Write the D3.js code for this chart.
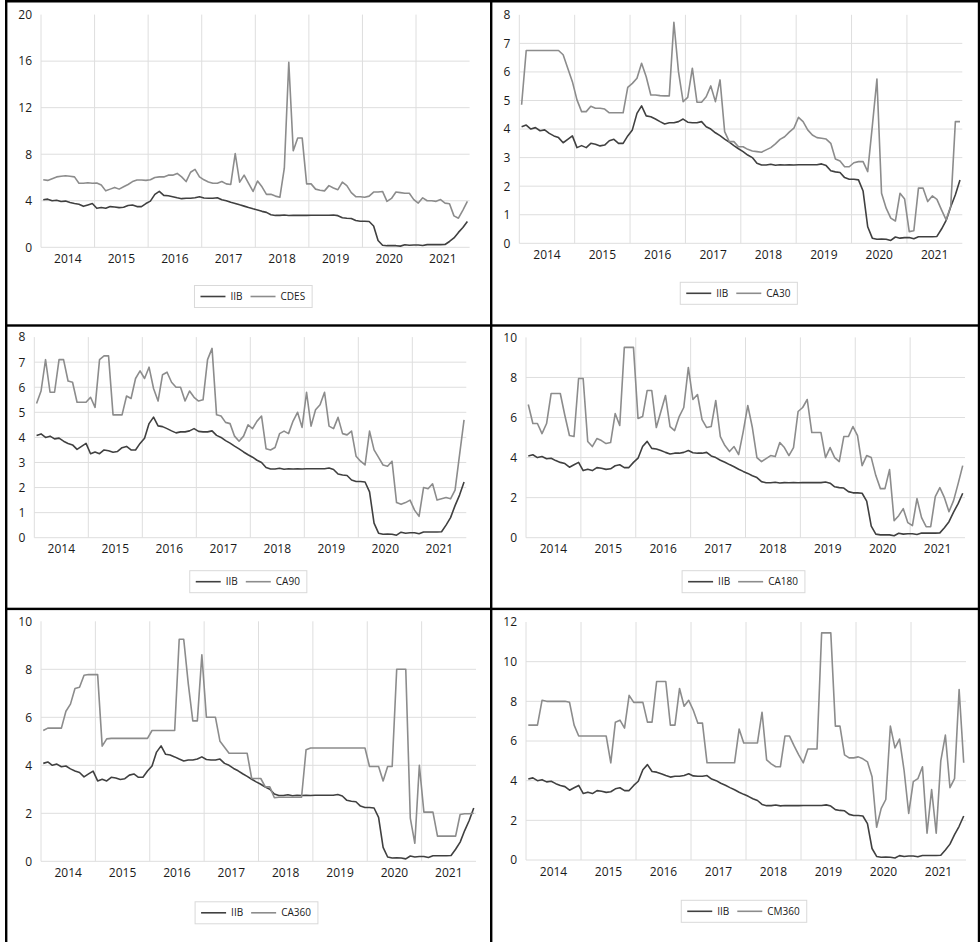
<!DOCTYPE html>
<html>
<head>
<meta charset="utf-8">
<script src="https://cdn.jsdelivr.net/npm/d3@7"></script>
<style>
  body { margin: 0; background: #fff; }
  svg { display: block; font-family: "Open Sans", sans-serif; }
</style>
</head>
<body>
<div id="chart-area"></div>
<script>
// monthly data, Jan 2014 - Dec 2021
const years = [2014, 2015, 2016, 2017, 2018, 2019, 2020, 2021];

const iib = [
  4.08, 4.14, 4.0, 4.05, 3.94, 3.97, 3.85, 3.76, 3.7, 3.52, 3.64, 3.76,
  3.35, 3.42, 3.35, 3.5, 3.47, 3.41, 3.44, 3.59, 3.64, 3.5, 3.5, 3.76,
  3.97, 4.55, 4.81, 4.46, 4.43, 4.35, 4.26, 4.18, 4.22, 4.22, 4.26, 4.35,
  4.24, 4.22, 4.22, 4.26, 4.08, 4.0, 3.87, 3.77, 3.65, 3.54, 3.42, 3.31,
  3.21, 3.09, 3.0, 2.8, 2.74, 2.74, 2.77, 2.73, 2.75, 2.74, 2.75, 2.74,
  2.75, 2.75, 2.75, 2.75, 2.75, 2.78, 2.72, 2.54, 2.5, 2.48, 2.3, 2.24,
  2.24, 2.22, 1.83, 0.58, 0.18, 0.14, 0.15, 0.14, 0.1, 0.22, 0.18, 0.2,
  0.2, 0.16, 0.23, 0.23, 0.23, 0.23, 0.24, 0.5, 0.8, 1.28, 1.7, 2.22
];

const cdes = [
  5.8, 5.75, 5.9, 6.05, 6.1, 6.15, 6.1, 6.05, 5.5, 5.5, 5.55, 5.5,
  5.52, 5.35, 4.85, 5.0, 5.15, 5.0, 5.2, 5.4, 5.65, 5.78, 5.78, 5.75,
  5.8, 6.0, 6.05, 6.05, 6.2, 6.2, 6.35, 6.05, 5.65, 6.45, 6.7, 6.05,
  5.8, 5.62, 5.5, 5.5, 5.65, 5.45, 5.4, 8.05, 5.6, 6.2, 5.5, 4.8,
  5.7, 5.2, 4.55, 4.55, 4.4, 4.3, 6.8, 15.9, 8.3, 9.4, 9.4, 5.45,
  5.45, 5.0, 4.9, 4.85, 5.3, 5.1, 4.95, 5.6, 5.3, 4.7, 4.35, 4.35,
  4.3, 4.4, 4.75, 4.75, 4.8, 3.95, 4.2, 4.75, 4.7, 4.65, 4.65, 4.1,
  3.8, 4.25, 4.0, 4.0, 3.95, 4.1, 3.8, 3.75, 2.7, 2.5, 3.2, 3.95
];

const ca30 = [
  4.85, 6.75, 6.75, 6.75, 6.75, 6.75, 6.75, 6.75, 6.75, 6.6, 6.13, 5.66,
  5.02, 4.61, 4.61, 4.8, 4.73, 4.73, 4.7, 4.57, 4.57, 4.57, 4.57, 5.46,
  5.6, 5.78, 6.3, 5.83, 5.19, 5.19, 5.17, 5.16, 5.16, 7.74, 6.0, 4.96,
  5.11, 6.13, 4.94, 4.94, 5.13, 5.51, 4.96, 5.72, 3.91, 3.56, 3.56, 3.38,
  3.38, 3.29, 3.23, 3.21, 3.19, 3.27, 3.35, 3.48, 3.64, 3.73, 3.89, 4.03,
  4.41, 4.26, 3.97, 3.79, 3.7, 3.68, 3.65, 3.5, 2.95, 2.88, 2.68, 2.68,
  2.82, 2.86, 2.86, 2.51, 4.1, 5.75, 1.75, 1.23, 0.88, 0.78, 1.75, 1.55,
  0.41, 0.44, 1.93, 1.93, 1.46, 1.66, 1.54, 1.17, 0.82, 1.31, 4.26, 4.26
];

const ca90 = [
  5.35, 5.85, 7.1, 5.8, 5.8, 7.1, 7.1, 6.25, 6.2, 5.4, 5.4, 5.4,
  5.6, 5.2, 7.1, 7.25, 7.25, 4.9, 4.9, 4.9, 5.65, 5.55, 6.35, 6.65,
  6.35, 6.8, 5.95, 5.45, 6.5, 6.6, 6.2, 6.0, 6.0, 5.45, 5.85, 5.6,
  5.45, 5.5, 7.1, 7.55, 4.9, 4.85, 4.6, 4.55, 4.05, 3.85, 4.05, 4.5,
  4.35, 4.65, 4.85, 3.55, 3.5, 3.6, 4.15, 4.25, 4.15, 4.65, 5.0, 4.4,
  5.8, 4.45, 5.1, 5.3, 5.8, 4.45, 4.35, 4.8, 4.15, 4.1, 4.25, 3.25,
  3.05, 2.9, 4.25, 3.5, 3.2, 2.9, 2.85, 3.05, 1.4, 1.33, 1.4, 1.5,
  1.1, 0.85, 2.0, 1.95, 2.15, 1.5, 1.55, 1.6, 1.55, 1.9, 3.3, 4.7
];

const ca180 = [
  6.65, 5.7, 5.7, 5.2, 5.7, 7.2, 7.2, 7.2, 6.1, 5.1, 5.05, 7.95,
  7.95, 4.8, 4.55, 4.95, 4.85, 4.7, 4.75, 6.2, 5.6, 9.5, 9.5, 9.5,
  5.95, 6.05, 7.35, 7.35, 5.5, 6.3, 7.1, 5.55, 5.35, 6.05, 6.5, 8.5,
  6.9, 7.15, 5.9, 5.5, 5.55, 6.85, 5.05, 4.6, 4.3, 4.55, 4.15, 5.3,
  6.6, 5.5, 4.0, 3.8, 3.95, 4.1, 4.05, 4.75, 4.5, 4.1, 4.5, 6.3,
  6.5, 6.9, 5.25, 5.25, 5.25, 4.0, 4.5, 4.0, 3.8, 5.05, 5.05, 5.55,
  5.1, 3.6, 4.1, 4.0, 3.1, 2.45, 2.45, 3.4, 0.85, 1.1, 1.45, 0.75,
  0.6, 1.95, 1.0, 0.55, 0.55, 2.05, 2.5, 2.0, 1.3, 1.85, 2.7, 3.6
];

const ca360 = [
  5.45, 5.55, 5.55, 5.55, 5.55, 6.25, 6.55, 7.2, 7.25, 7.75, 7.78, 7.78,
  7.78, 4.8, 5.1, 5.12, 5.12, 5.12, 5.12, 5.12, 5.12, 5.12, 5.12, 5.12,
  5.45, 5.45, 5.45, 5.45, 5.45, 5.45, 9.25, 9.25, 7.4, 5.85, 5.85, 8.6,
  6.0, 6.0, 6.0, 5.0, 4.75, 4.5, 4.5, 4.5, 4.5, 4.5, 3.45, 3.45,
  3.45, 3.1, 3.1, 2.65, 2.67, 2.67, 2.67, 2.67, 2.67, 2.67, 4.65, 4.72,
  4.72, 4.72, 4.72, 4.72, 4.72, 4.72, 4.72, 4.72, 4.72, 4.72, 4.72, 4.72,
  3.95, 3.95, 3.95, 3.35, 3.95, 3.95, 8.0, 8.0, 8.0, 1.8, 0.75, 4.0,
  2.05, 2.05, 2.05, 1.05, 1.05, 1.05, 1.05, 1.05, 1.95, 1.98, 1.98, 2.0
];

const cm360 = [
  6.8, 6.8, 6.8, 8.05, 8.0, 8.0, 8.0, 8.0, 8.0, 7.95, 6.8, 6.25,
  6.25, 6.25, 6.25, 6.25, 6.25, 6.25, 4.9, 6.95, 7.05, 6.65, 8.3, 7.95,
  7.95, 7.95, 6.95, 6.95, 9.0, 9.0, 9.0, 6.8, 6.8, 8.65, 7.75, 8.05,
  7.55, 6.9, 6.9, 4.9, 4.9, 4.9, 4.9, 4.9, 4.9, 4.9, 6.6, 5.9,
  5.9, 5.9, 5.9, 7.45, 5.05, 4.85, 4.7, 4.7, 6.25, 6.25, 5.75, 5.3,
  4.9, 5.6, 5.6, 5.6, 11.45, 11.45, 11.45, 6.75, 6.75, 5.3, 5.15, 5.15,
  5.2, 5.1, 4.95, 4.2, 1.65, 2.6, 3.05, 6.75, 5.65, 6.1, 4.5, 2.35,
  3.95, 4.1, 4.7, 1.35, 3.55, 1.35, 5.0, 6.3, 3.65, 4.1, 8.6, 4.9
];

const seriesNames = ["CDES", "CA30", "CA90", "CA180", "CA360", "CM360"];
const seriesValues = [cdes, ca30, ca90, ca180, ca360, cm360];
// y-axis tick labels per panel
const yTicks = [
  [0, 4, 8, 12, 16, 20],
  [0, 1, 2, 3, 4, 5, 6, 7, 8],
  [0, 1, 2, 3, 4, 5, 6, 7, 8],
  [0, 2, 4, 6, 8, 10],
  [0, 2, 4, 6, 8, 10],
  [0, 2, 4, 6, 8, 10, 12]
];

const WIDTH = 980;
const HEIGHT = 942;

// plot-area layout for each panel (pixels)
const panels = [
  { left: 41, width: 428.6, top: 14.6, bottom: 247.3, legendY: 296.5 },
  { left: 519.3, width: 443, top: 14.8, bottom: 243.3, legendY: 293.3 },
  { left: 34.3, width: 432, top: 337.1, bottom: 537.7, legendY: 581.7 },
  { left: 526, width: 439, top: 337.4, bottom: 537.7, legendY: 581.7 },
  { left: 41, width: 435, top: 621.3, bottom: 861.3, legendY: 912.8 },
  { left: 526, width: 440, top: 622, bottom: 860, legendY: 911.3 }
];

const IIB_COLOR = "#404040";
const OTHER_COLOR = "#8c8c8c";
const GRID_COLOR = "#dedede";

const svg = d3
  .select("#chart-area")
  .append("svg")
  .attr("width", WIDTH)
  .attr("height", HEIGHT);

svg.append("rect").attr("width", WIDTH).attr("height", HEIGHT).attr("fill", "#fff");

panels.forEach((p, k) => {
  const g = svg.append("g");
  const ticks = yTicks[k];

  // scales
  const x = d3.scaleLinear().domain([0, years.length * 12]).range([p.left, p.left + p.width]);
  const xYear = d3.scaleBand().domain(years).range([p.left, p.left + p.width]);
  const y = d3.scaleLinear().domain([0, d3.max(ticks)]).range([p.bottom, p.top]);

  // horizontal gridlines (no line at the top value)
  g.append("g")
    .selectAll("line")
    .data(ticks.slice(0, -1))
    .join("line")
    .attr("x1", p.left)
    .attr("x2", p.left + p.width)
    .attr("y1", (d) => y(d))
    .attr("y2", (d) => y(d))
    .attr("stroke", GRID_COLOR)
    .attr("stroke-width", 1);

  // vertical gridlines at year boundaries
  g.append("g")
    .selectAll("line")
    .data(years)
    .join("line")
    .attr("x1", (d) => xYear(d))
    .attr("x2", (d) => xYear(d))
    .attr("y1", p.top)
    .attr("y2", p.bottom)
    .attr("stroke", GRID_COLOR)
    .attr("stroke-width", 1);

  // y axis
  const yAxis = g
    .append("g")
    .attr("transform", `translate(${p.left}, 0)`)
    .call(d3.axisLeft(y).tickValues(ticks).tickSize(0).tickPadding(9).tickFormat(d3.format("d")));
  yAxis.select(".domain").remove();
  yAxis
    .selectAll("text")
    .attr("font-size", "12px")
    .attr("font-family", "'Open Sans', sans-serif")
    .attr("fill", "#1a1a1a");

  // x axis: year labels centred in each group of months
  const xAxis = g
    .append("g")
    .attr("transform", `translate(0, ${p.bottom})`)
    .call(d3.axisBottom(xYear).tickSize(0).tickPadding(7));
  xAxis.select(".domain").remove();
  xAxis
    .selectAll("text")
    .attr("font-size", "12px")
    .attr("font-family", "'Open Sans', sans-serif")
    .attr("fill", "#1a1a1a");

  // line generator, points centred in each month slot
  const line = d3
    .line()
    .x((d, i) => x(i + 0.5))
    .y((d) => y(d));

  g.append("path")
    .datum(iib)
    .attr("fill", "none")
    .attr("stroke", IIB_COLOR)
    .attr("stroke-width", 1.6)
    .attr("stroke-linejoin", "round")
    .attr("d", line);

  g.append("path")
    .datum(seriesValues[k])
    .attr("fill", "none")
    .attr("stroke", OTHER_COLOR)
    .attr("stroke-width", 1.6)
    .attr("stroke-linejoin", "round")
    .attr("d", line);

  // legend
  const items = [
    { name: "IIB", color: IIB_COLOR },
    { name: seriesNames[k], color: OTHER_COLOR }
  ];
  const legend = g.append("g");
  const box = legend.append("rect");
  let cx = 6;
  items.forEach((it, j) => {
    legend
      .append("line")
      .attr("x1", cx)
      .attr("x2", cx + 25)
      .attr("y1", 0)
      .attr("y2", 0)
      .attr("stroke", it.color)
      .attr("stroke-width", 1.6);
    const t = legend
      .append("text")
      .attr("x", cx + 30)
      .attr("y", 0)
      .attr("dy", "0.35em")
      .attr("font-size", "10px")
      .attr("font-family", "'Open Sans', sans-serif")
      .attr("fill", "#1a1a1a")
      .text(it.name);
    cx += 30 + t.node().getComputedTextLength() + (j === 0 ? 8 : 7);
  });
  box
    .attr("x", 0)
    .attr("y", -11)
    .attr("width", cx)
    .attr("height", 22)
    .attr("fill", "#fff")
    .attr("stroke", "#d9d9d9");
  legend.attr(
    "transform",
    `translate(${p.left + p.width / 2 - 2 - cx / 2}, ${p.legendY})`
  );
});

// panel borders
const borders = [
  { x: 5, y: 0, w: 2.4, h: HEIGHT },
  { x: 5, y: 0, w: 975 - 0, h: 2.5 },
  { x: 977.8, y: 0, w: 2.2, h: HEIGHT },
  { x: 490, y: 0, w: 2.4, h: HEIGHT },
  { x: 5, y: 324.3, w: 975, h: 2.4 },
  { x: 5, y: 607.7, w: 975, h: 2.4 }
];
svg
  .append("g")
  .selectAll("rect")
  .data(borders)
  .join("rect")
  .attr("x", (d) => d.x)
  .attr("y", (d) => d.y)
  .attr("width", (d) => d.w)
  .attr("height", (d) => d.h)
  .attr("fill", "#000");
</script>
</body>
</html>
